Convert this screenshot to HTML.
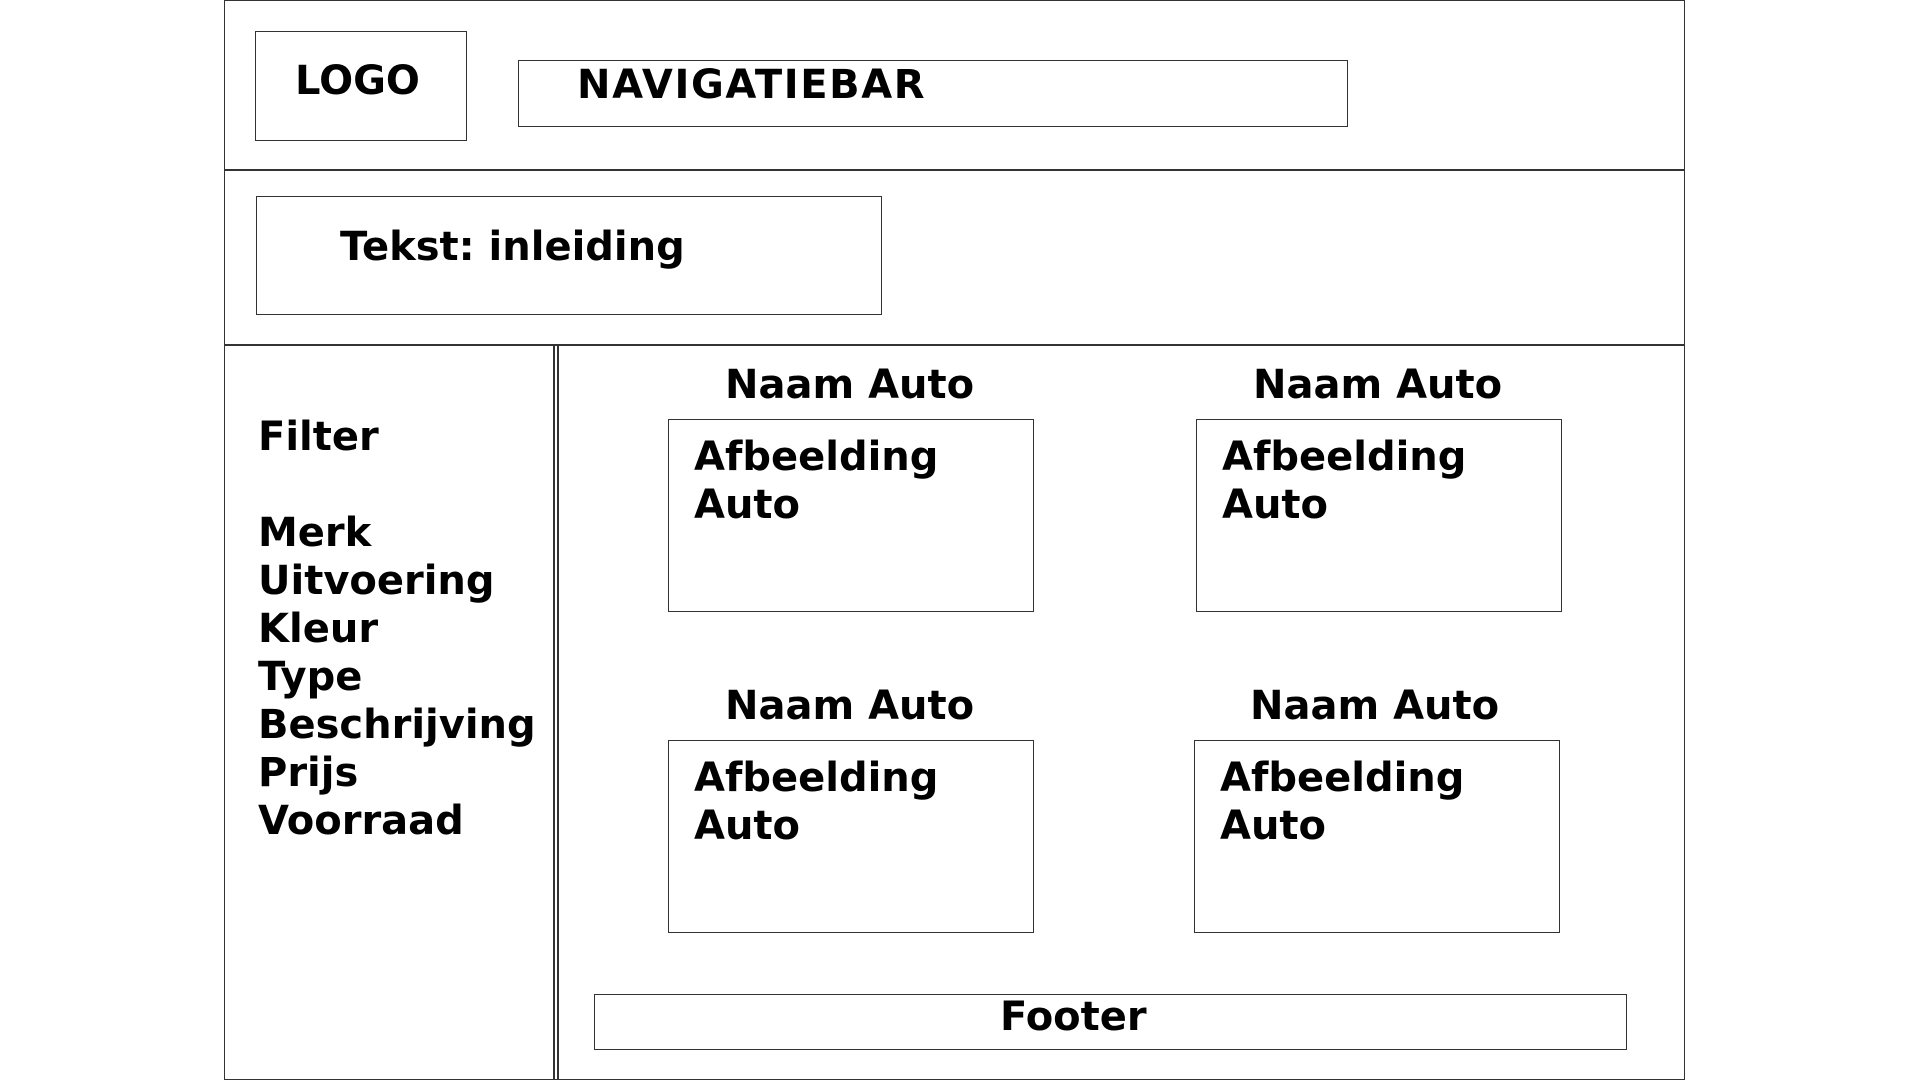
<!DOCTYPE html>
<html><head><meta charset="utf-8"><style>
html,body{margin:0;padding:0;background:#fff;}
body{width:1920px;height:1080px;position:relative;overflow:hidden;font-family:"DejaVu Sans","Liberation Sans",sans-serif;font-weight:bold;color:#000;}
.b{position:absolute;border:1.5px solid #333;box-sizing:border-box;}
.l{position:absolute;background:#333;}
.t{position:absolute;font-size:40px;line-height:40px;white-space:nowrap;}
</style></head><body>
<div class="b" style="left:224px;top:0;width:1461px;height:1080px;"></div>
<div class="l" style="left:224px;top:169px;width:1461px;height:1.5px;"></div>
<div class="l" style="left:224px;top:344px;width:1461px;height:1.5px;"></div>
<div class="l" style="left:553px;top:344px;width:1.5px;height:736px;"></div>
<div class="l" style="left:557px;top:344px;width:1.5px;height:736px;"></div>

<div class="b" style="left:255px;top:31px;width:212px;height:110px;"></div>
<div class="t" style="left:295px;top:61px;">LOGO</div>
<div class="b" style="left:518px;top:60px;width:830px;height:67px;"></div>
<div class="t" style="left:577px;top:65px;letter-spacing:1.6px;">NAVIGATIEBAR</div>

<div class="b" style="left:256px;top:196px;width:626px;height:119px;"></div>
<div class="t" style="left:340px;top:227px;">Tekst: inleiding</div>

<div class="t" style="left:258px;top:417px;">Filter</div>
<div class="t" style="left:258px;line-height:48px;top:509px;">Merk<br>Uitvoering<br>Kleur<br>Type<br>Beschrijving<br>Prijs<br>Voorraad</div>

<div class="t" style="left:725px;top:365px;">Naam Auto</div>
<div class="b" style="left:668px;top:419px;width:366px;height:193px;"></div>
<div class="t" style="left:694px;top:433px;line-height:48px;">Afbeelding<br>Auto</div>

<div class="t" style="left:1253px;top:365px;">Naam Auto</div>
<div class="b" style="left:1196px;top:419px;width:366px;height:193px;"></div>
<div class="t" style="left:1222px;top:433px;line-height:48px;">Afbeelding<br>Auto</div>

<div class="t" style="left:725px;top:686px;">Naam Auto</div>
<div class="b" style="left:668px;top:740px;width:366px;height:193px;"></div>
<div class="t" style="left:694px;top:754px;line-height:48px;">Afbeelding<br>Auto</div>

<div class="t" style="left:1250px;top:686px;">Naam Auto</div>
<div class="b" style="left:1194px;top:740px;width:366px;height:193px;"></div>
<div class="t" style="left:1220px;top:754px;line-height:48px;">Afbeelding<br>Auto</div>

<div class="b" style="left:594px;top:994px;width:1033px;height:56px;"></div>
<div class="t" style="left:1000px;top:997px;">Footer</div>
</body></html>
